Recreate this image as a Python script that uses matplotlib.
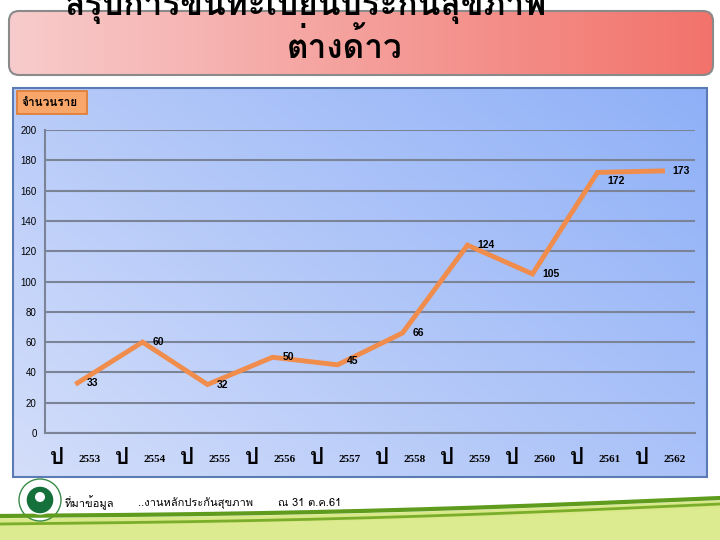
import numpy as np
import matplotlib
matplotlib.use("Agg")
import matplotlib.pyplot as plt
from matplotlib import font_manager
from matplotlib.ft2font import FT2Font
from matplotlib.patches import FancyBboxPatch, Rectangle, Circle

# Data
years = ["2553", "2554", "2555", "2556", "2557", "2558", "2559", "2560", "2561", "2562"]
counts = [33, 60, 32, 50, 45, 66, 124, 105, 172, 173]
label_dy = [0, 0, 0, 0, 3, 0, 0, 0, -6, 0]  # small vertical nudges of value labels (points)

title_line1 = "สรุปการขึ้นทะเบียนประกันสุขภาพ"
title_line2 = "ต่างด้าว"
y_title = "จำนวนราย"
year_prefix = "ป"
footer = ["ที่มาข้อมูล", "..งานหลักประกันสุขภาพ", "ณ 31 ต.ค.61"]

W, H = 720, 540


def thai_family():
    # pick the first installed font that has Thai glyphs
    for f in font_manager.fontManager.ttflist:
        try:
            if ord("ก") in FT2Font(f.fname).get_charmap():
                return f.name
        except Exception:
            pass
    return "DejaVu Sans"


THAI = [thai_family(), "DejaVu Sans"]


def px(x0, y0, x1, y1):
    """pixel box (top-left origin) -> figure rect"""
    return [x0 / W, 1 - y1 / H, (x1 - x0) / W, (y1 - y0) / H]


fig = plt.figure(figsize=(W / 100, H / 100), dpi=100)
fig.patch.set_facecolor("white")

# decoration layer in pixel coordinates
deco = fig.add_axes([0, 0, 1, 1])
deco.set_xlim(0, W)
deco.set_ylim(H, 0)
deco.axis("off")

# title banner with pink -> red gradient
banner = FancyBboxPatch((9, 11), 704, 64, boxstyle="round,pad=0,rounding_size=10",
                        facecolor="none", edgecolor="#8a8a8a", lw=1.5, zorder=3)
deco.add_patch(banner)
grad = np.linspace(0, 1, 256)[None, :]
pink = np.array([0.97, 0.80, 0.80])
red = np.array([0.95, 0.45, 0.42])
img = pink + grad[..., None] * (red - pink)
im = deco.imshow(img, extent=(9, 713, 75, 11), aspect="auto", zorder=2)
im.set_clip_path(banner)
# first title line runs off the top edge, as on the slide
deco.text(306, 2, title_line1, fontsize=24, fontweight="bold", family=THAI,
          ha="center", va="center", zorder=4)
deco.text(345, 46, title_line2, fontsize=24, fontweight="bold", family=THAI,
          ha="center", va="center", zorder=4)

# blue chart panel, light at bottom-left, deeper blue toward the right
gx, gy = np.meshgrid(np.linspace(0, 1, 200), np.linspace(0, 1, 200))
t = 0.6 * gx + 0.4 * (1 - gy)
light = np.array([0.83, 0.87, 0.98])
dark = np.array([0.56, 0.69, 0.97])
blue = light + t[..., None] * (dark - light)
deco.imshow(blue, extent=(13, 707, 477, 88), aspect="auto", zorder=2)
deco.add_patch(Rectangle((13, 88), 694, 389, facecolor="none", edgecolor="#5b7bb5",
                         lw=1.5, zorder=3))

# y-axis title box
deco.add_patch(Rectangle((17, 91), 70, 23, facecolor="#f9a66a", edgecolor="#e07a30",
                         lw=1.2, zorder=3))
deco.text(21, 103, y_title, fontsize=8.5, fontweight="bold", family=THAI,
          ha="left", va="center", zorder=4)

# footer: logo, source text and green swoosh
deco.add_patch(Circle((40, 500), 21, facecolor="white", edgecolor="#3a8a4a", lw=1, zorder=3))
deco.add_patch(Circle((40, 500), 14, facecolor="#16703a", edgecolor="white", lw=1, zorder=4))
deco.add_patch(Circle((40, 497), 5, facecolor="white", edgecolor="none", zorder=5))
for x, s in zip([65, 138, 278], footer):
    deco.text(x, 503, s, fontsize=8, family=THAI, ha="left", va="center", zorder=4)

sx = np.linspace(0, W, 200)
top = 516 - 18 * (sx / W) + 4 * np.sin(sx / W * np.pi)
deco.fill_between(sx, top + 3, H, color="#d9e888", zorder=2)
deco.plot(sx, top, color="#5f9c1e", lw=3, zorder=3)
deco.plot(sx, top + 8 - 2 * (sx / W), color="#7aae2a", lw=2, zorder=3)
deco.fill_between(sx, top + 10, H, color="#dcea90", zorder=2)

# the chart itself
ax = fig.add_axes(px(45, 130, 695, 433))
ax.set_facecolor("none")
x = np.arange(len(counts))
ax.plot(x, counts, color="#f08c4c", lw=3.5, solid_joinstyle="miter", zorder=3)
for xi, v, dy in zip(x, counts, label_dy):
    ax.annotate(str(v), (xi, v), xytext=(7, dy), textcoords="offset points",
                ha="left", va="center", fontsize=7.5, fontweight="bold",
                family="Liberation Sans", zorder=4)

ax.set_xlim(-0.5, len(counts) - 0.5)
ax.set_ylim(0, 200)
ax.set_yticks(range(0, 201, 20))
ax.yaxis.grid(True, color="#7b8496", lw=1.5)
ax.set_axisbelow(True)
ax.tick_params(axis="y", length=0, pad=6, labelsize=7)
for lab in ax.get_yticklabels():
    lab.set_family("Liberation Sans")
ax.set_xticks([])
for side in ["top", "right"]:
    ax.spines[side].set_visible(False)
for side in ["left", "bottom"]:
    ax.spines[side].set_color("#7b8496")
    ax.spines[side].set_linewidth(1.5)

# category labels: big "ป" followed by the year
for xi, yr in zip(x, years):
    ax.annotate(year_prefix, (xi, 0), xycoords=("data", "axes fraction"),
                xytext=(-15, -18), textcoords="offset points", ha="center", va="center",
                fontsize=16, fontweight="bold", family=THAI)
    ax.annotate(yr, (xi, 0), xycoords=("data", "axes fraction"),
                xytext=(9, -19), textcoords="offset points", ha="center", va="center",
                fontsize=8, fontweight="bold", family="Liberation Serif")

fig.savefig("out.png", dpi=100)
